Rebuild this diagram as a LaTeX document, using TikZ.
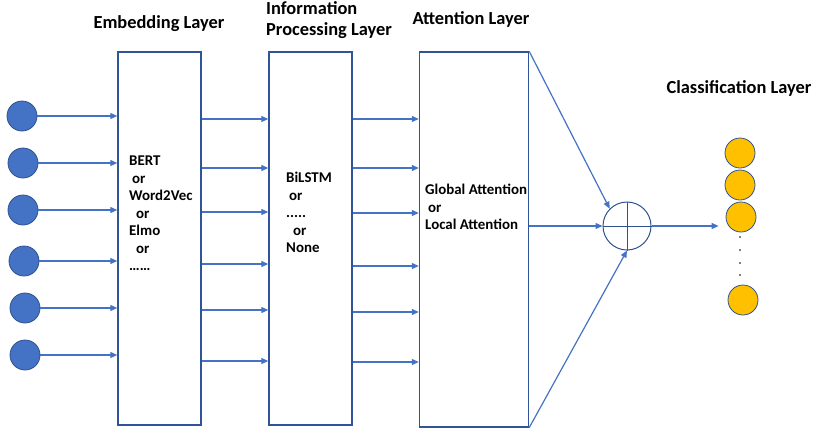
\documentclass[tikz,border=0pt]{standalone}
\usepackage{fontspec}
\setmainfont{Carlito}
\usetikzlibrary{arrows.meta}
\definecolor{arrowblue}{HTML}{4472C4}
\definecolor{boxblue}{HTML}{2F5597}
\definecolor{edgeblue}{HTML}{2F528F}
\definecolor{gold}{HTML}{FFC000}
\tikzset{
  layer/.style={draw=boxblue, line width=1.4pt, minimum width=83pt, minimum height=373pt, inner sep=0pt},
  token/.style={shape=circle, draw=edgeblue, fill=arrowblue, line width=0.8pt, minimum size=30pt, inner sep=0pt},
  label/.style={shape=circle, draw=edgeblue, fill=gold, line width=0.8pt, minimum size=30pt, inner sep=0pt},
  heading/.style={font=\fontsize{18.4}{21}\selectfont\bfseries, align=left, inner sep=0pt},
  body/.style={font=\fontsize{14.9}{17.5}\selectfont\bfseries, align=left, anchor=north west, inner sep=0pt},
  flow/.style={draw=arrowblue, line width=1.2pt, -{Triangle[length=7pt,width=6pt]}}
}

\begin{document}
\begin{tikzpicture}[x=1pt,y=-1pt]
\useasboundingbox (0,0) rectangle (836,440);
\node[heading] (TE) at (159,24) {Embedding Layer};
\node[heading, anchor=west] (TP) at (266,20) {Information\\Processing Layer};
\node[heading] (TA) at (471,19) {Attention Layer};
\node[heading] (TC) at (739,88) {Classification Layer};

\node[layer] (E) at (159.5,238.5) {};
\node[layer] (P) at (310.5,238.5) {};
\node[layer, minimum width=109pt, minimum height=375pt] (A) at (474,239.5) {};

\node[body] (ET) at (129,156) {BERT\\\hspace{3pt}or\\Word2Vec\\\hspace{7pt}or\\Elmo\\\hspace{7pt}or\\……};
\node[body] (PT) at (286,172) {BiLSTM\\\hspace{3pt}or\\.....\\\hspace{7pt}or\\None};
\node[body] (AT) at (425,184) {Global Attention\\\hspace{3pt}or\\Local Attention};

\node[token] (I1) at (22,116) {};
\node[token] (I2) at (23,163) {};
\node[token] (I3) at (23,210) {};
\node[token] (I4) at (24,261) {};
\node[token] (I5) at (25,308) {};
\node[token] (I6) at (25,355) {};

\node[shape=circle, draw=edgeblue, line width=1pt, minimum size=48pt, inner sep=0pt] (S) at (627,226) {};
\draw[edgeblue, line width=1pt] (S.north) -- (S.south) (S.west) -- (S.east);

\node[label] (O1) at (740,153) {};
\node[label] (O2) at (740,185) {};
\node[label] (O3) at (741,217) {};
\node[label] (O4) at (743,300) {};
\foreach \y in {237,250,263,275}
  \fill (740,\y) circle (0.8pt);

% token -> embedding
\foreach \i in {1,...,6}
  \draw[flow] (I\i) -- (I\i -| E.west);
% embedding -> processing
\foreach \y in {119,168,212,264,310,361}
  \draw[flow] (E.east |- 0,\y) -- (P.west |- 0,\y);
% processing -> attention
\foreach \y in {119,168,213,266,312,362}
  \draw[flow] (P.east |- 0,\y) -- (A.west |- 0,\y);
% attention -> sum -> classes
\draw[flow] (A.north east) -- (S.north west);
\draw[flow] (A.east |- S.west) -- (S.west);
\draw[flow] (A.south east) -- (S.south);
\draw[flow, shorten >=7pt] (S.east) -- (O3.west |- S.east);
\end{tikzpicture}
\end{document}
